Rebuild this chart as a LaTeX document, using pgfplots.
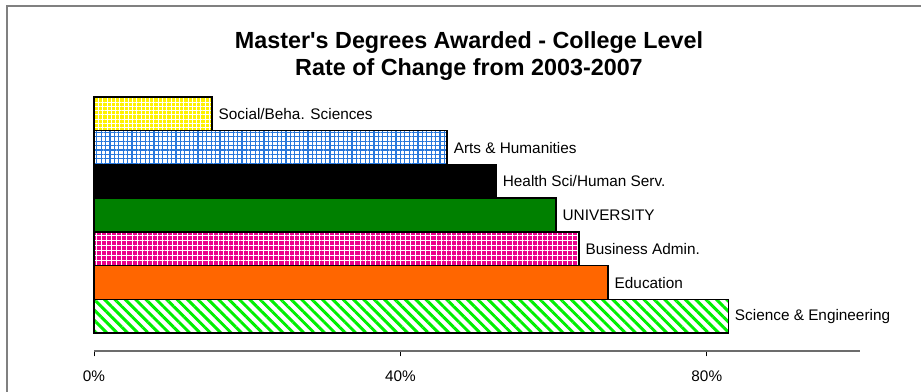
\documentclass[border=0pt]{standalone}
\usepackage{fontspec}
\setmainfont{Liberation Sans}
\usepackage{pgfplots}
\pgfplotsset{compat=1.18}
\usetikzlibrary{patterns,patterns.meta}

\definecolor{artsblue}{RGB}{40,120,220}
\definecolor{univgreen}{RGB}{0,128,0}
\definecolor{eduorange}{RGB}{255,102,0}
\definecolor{scigreen}{RGB}{0,240,0}

\begin{document}
\begin{tikzpicture}
\path[use as bounding box] (0,0) rectangle (690.75pt,-294pt);
% chart frame (only top and left edges are inside the picture)
\draw[gray, line width=0.8pt] (5.25pt,-294pt) -- (5.25pt,-4.5pt) -- (690.75pt,-4.5pt);

\node[font=\bfseries\fontsize{17.5}{20.5}\selectfont, align=center]
  at (351.75pt,-42pt) {Master\textquotesingle s Degrees Awarded - College Level\\Rate of Change from 2003-2007};

\begin{axis}[
  at={(70.5pt,-263.25pt)}, anchor=south west,
  scale only axis, width=574.5pt, height=192pt,
  xbar, bar shift=0pt, bar width=1,
  xmin=0, xmax=100, ymin=-1.03, ymax=6.56,
  axis x line*=bottom, axis y line=none,
  x axis line style={draw=gray!85!black, line width=1.2pt, -},
  xtick={0,40,80}, xticklabels={0\%,40\%,80\%},
  xticklabel style={font=\fontsize{11.5}{13}\selectfont, yshift=-7pt},
  tick align=outside, major tick length=4pt,
  tick style={draw=black, line width=0.6pt},
  ytick=\empty,
  clip=false,
  every axis plot/.append style={draw=black, line width=1.1pt},
  nodes near coords align=horizontal,
  every node near coord/.append style={anchor=west, inner sep=0pt, xshift=4.5pt,
    text=black, fill=none, draw=none, font=\fontsize{11.5}{13}\selectfont},
]
\addplot[fill=yellow, postaction={pattern={Hatch[distance=3.2pt,line width=0.25pt]}, pattern color=white},
  nodes near coords={Social/Beha. Sciences}] coordinates {(15.4,6)};
\addplot[fill=white, postaction={pattern={Hatch[distance=3.3pt,line width=0.9pt]}, pattern color=artsblue},
  nodes near coords={Arts \& Humanities}] coordinates {(46.1,5)};
\addplot[fill=black,
  nodes near coords={Health Sci/Human Serv.}] coordinates {(52.5,4)};
\addplot[fill=univgreen,
  nodes near coords={UNIVERSITY}] coordinates {(60.3,3)};
\addplot[fill=magenta, postaction={pattern={Hatch[distance=3.8pt,line width=0.35pt]}, pattern color=white},
  nodes near coords={Business Admin.}] coordinates {(63.3,2)};
\addplot[fill=eduorange,
  nodes near coords={Education}] coordinates {(67.1,1)};
\addplot[fill=white, postaction={pattern={Lines[angle=-45,distance=5.5pt,line width=2.2pt]}, pattern color=scigreen},
  nodes near coords={Science \& Engineering}] coordinates {(82.8,0)};
\end{axis}
\end{tikzpicture}
\end{document}
